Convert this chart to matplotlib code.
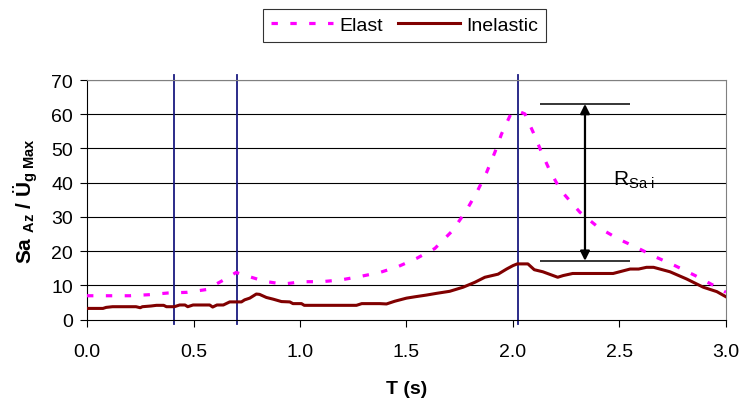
import numpy as np
import matplotlib.pyplot as plt

plt.rcParams['font.family'] = ['Liberation Sans', 'DejaVu Sans']
plt.rcParams['mathtext.fontset'] = 'custom'
plt.rcParams['mathtext.rm'] = 'Liberation Sans'
plt.rcParams['mathtext.bf'] = 'Liberation Sans:bold'
plt.rcParams['mathtext.it'] = 'Liberation Sans:italic'

# elastic spectrum
t_el = [0.0, 0.2, 0.29, 0.38, 0.47, 0.56, 0.65, 0.70, 0.75, 0.835, 0.92, 1.01, 1.10,
        1.19, 1.28, 1.375, 1.46, 1.547, 1.633, 1.716, 1.78, 1.83, 1.876, 1.915,
        1.946, 1.99, 2.02, 2.056, 2.095, 2.134, 2.173, 2.225, 2.314, 2.40, 2.494,
        2.58, 2.674, 2.76, 2.855, 2.957, 3.0]
sa_el = [7.0, 7.0, 7.3, 7.8, 8.0, 8.8, 11.9, 13.8, 12.8, 11.2, 10.4, 11.1, 11.1,
         11.6, 12.6, 13.8, 15.5, 17.9, 20.8, 26.0, 31.8, 37.2, 43.0, 48.9,
         54.2, 60.1, 61.0, 60.1, 54.7, 48.9, 43.5, 37.7, 31.4, 27.0, 23.6,
         21.1, 18.2, 15.8, 12.9, 9.5, 8.0]

# inelastic spectrum
t_in = [0.0, 0.075, 0.09, 0.12, 0.23, 0.25, 0.26, 0.30, 0.326, 0.36, 0.373, 0.41,
        0.435, 0.46, 0.473, 0.498, 0.576, 0.59, 0.61, 0.64, 0.67, 0.725, 0.74,
        0.764, 0.795, 0.81, 0.842, 0.874, 0.913, 0.952, 0.967, 1.007, 1.02, 1.265,
        1.29, 1.375, 1.406, 1.445, 1.50, 1.54, 1.594, 1.641, 1.703, 1.766, 1.82,
        1.868, 1.93, 1.97, 2.0, 2.02, 2.07, 2.10, 2.14, 2.21, 2.236, 2.28, 2.47,
        2.55, 2.59, 2.627, 2.66, 2.737, 2.815, 2.893, 2.957, 3.0]
sa_in = [3.3, 3.3, 3.6, 3.8, 3.8, 3.5, 3.8, 4.0, 4.2, 4.2, 3.8, 3.8,
         4.3, 4.3, 3.8, 4.3, 4.3, 3.7, 4.3, 4.3, 5.2, 5.2, 5.8,
         6.3, 7.5, 7.4, 6.5, 6.0, 5.3, 5.2, 4.7, 4.7, 4.2, 4.2,
         4.7, 4.7, 4.6, 5.4, 6.3, 6.7, 7.2, 7.7, 8.3, 9.5, 10.9,
         12.4, 13.3, 14.8, 15.8, 16.3, 16.3, 14.6, 14.0, 12.4, 12.9, 13.5, 13.5,
         14.8, 14.8, 15.3, 15.3, 14.0, 11.9, 9.5, 8.2, 6.7]

vlines_t = [0.41, 0.703, 2.024]
r_top, r_bot = 63.0, 17.2
r_x = 2.338
r_xmin, r_xmax = 2.127, 2.55

fig = plt.figure(figsize=(7.43, 4.02), dpi=100)
ax = fig.add_axes([0.1171, 0.2022, 0.86, 0.5963])

for y in range(10, 71, 10):
    ax.axhline(y, color='black', lw=0.8, zorder=1)

for t in vlines_t:
    ax.plot([t, t], [-1.3, 71.5], color='#1a1a80', lw=1.3, zorder=2, clip_on=False)

l1, = ax.plot(t_el, sa_el, color='#ff00ff', lw=2.3, dashes=(2.0, 3.9),
              dash_capstyle='butt', zorder=3, label='Elast')
l2, = ax.plot(t_in, sa_in, color='#800000', lw=2.2, zorder=4, label='Inelastic')

ax.hlines([r_top, r_bot], r_xmin, r_xmax, color='black', lw=1.1, zorder=5)
ax.annotate('', xy=(r_x, r_top), xytext=(r_x, r_bot),
            arrowprops=dict(arrowstyle='<|-|>', color='black', lw=1.6,
                            mutation_scale=14, shrinkA=0, shrinkB=0), zorder=5)
ax.text(2.47, 41.0, r'R$_{\mathrm{Sa\ i}}$', fontsize=15, va='center', ha='left')

ax.set_xlim(0, 3.0)
ax.set_ylim(0, 70)
ax.set_xticks(np.arange(0, 3.01, 0.5))
ax.set_xticklabels(['%.1f' % v for v in np.arange(0, 3.01, 0.5)])
ax.set_yticks(range(0, 71, 10))
ax.tick_params(axis='x', labelsize=14, direction='out', length=5, pad=12)
ax.tick_params(axis='y', labelsize=14, direction='out', length=5, pad=5)

for s in ['top', 'right']:
    ax.spines[s].set_color('#808080')
for s in ['left', 'bottom']:
    ax.spines[s].set_color('black')

ax.set_xlabel('T (s)', fontsize=14, fontweight='bold', labelpad=14)
ax.set_ylabel(r'Sa $_{\mathbf{Az}}$ / Ü$_{\mathbf{g\ Max}}$', fontsize=15,
              fontweight='bold', labelpad=8)

leg = fig.legend(handles=[l1, l2], loc='center', bbox_to_anchor=(0.5444, 0.935),
                 ncol=2, fontsize=14, frameon=True, fancybox=False,
                 edgecolor='black', handlelength=3.2, handletextpad=0.3,
                 columnspacing=0.8, borderpad=0.4)
leg.get_frame().set_linewidth(0.8)

plt.savefig('out.png', dpi=100)
plt.close()
